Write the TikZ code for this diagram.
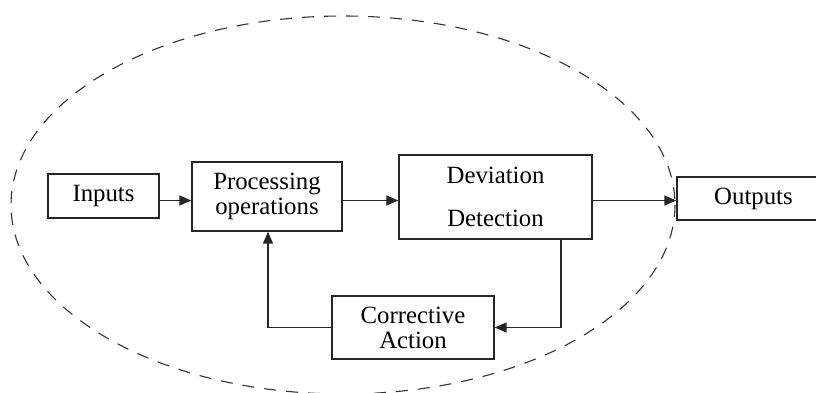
\documentclass[tikz,border=0pt]{standalone}
\usepackage{fontspec}
\setmainfont{Liberation Serif}
\usetikzlibrary{arrows.meta}
\begin{document}
\begin{tikzpicture}[x=0.5pt,y=-0.5pt,
  blk/.style={draw=black!85, line width=0.7pt, inner sep=0pt, align=center,
    font=\fontsize{12.4}{12.2}\selectfont},
  arr/.style={draw=black!85, line width=0.75pt, -{Triangle[length=6pt,width=5pt]}},
  boundary/.style={draw=black!80, line width=0.55pt, dash pattern=on 6pt off 5pt}]
\useasboundingbox (0,0) rectangle (816,392);
\fill[white] (0,0) rectangle (816,392);

% dashed system boundary
\draw[boundary] (343,205) ellipse [x radius=332, y radius=189];

% blocks
\node[blk, minimum width=55.5pt, minimum height=22pt] (inp) at (103.5,196) {Inputs};
\node[blk, minimum width=75pt, minimum height=34.5pt] (proc) at (267,196.5) {Processing\\operations};
\node[blk, minimum width=96.5pt, minimum height=42pt,
      font=\fontsize{12.4}{21.5}\selectfont] (dev) at (495.5,197) {Deviation\\Detection};
\node[blk, minimum width=76.5pt, minimum height=21.5pt] (out) at (753.5,198.5) {Outputs};
\node[blk, minimum width=81pt, minimum height=31.5pt,
      font=\fontsize{12.4}{12.5}\selectfont] (corr) at (413,327.5) {Corrective\\Action};

% reference positions for the connectors
\coordinate (ay) at (0,200.5);
\coordinate (fbr) at (561,0);
\coordinate (fbl) at (268,0);

% forward path
\draw[arr] (inp.east |- ay) -- (proc.west |- ay);
\draw[arr] (proc.east |- ay) -- (dev.west |- ay);
\draw[arr] (dev.east |- ay) -- (out.west |- ay);

% feedback loop
\draw[arr] (dev.south -| fbr) |- (corr.east);
\draw[arr] (corr.west) -| (proc.south -| fbl);
\end{tikzpicture}
\end{document}
